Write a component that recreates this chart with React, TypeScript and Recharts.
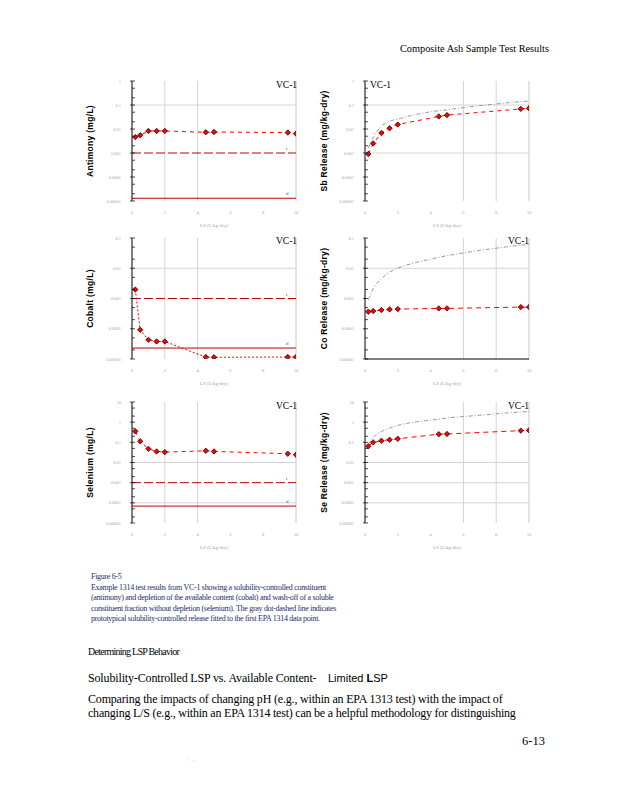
import React from "react";
import { ComposedChart, Line, XAxis, YAxis, ReferenceLine } from "recharts";

// L/S steps of the EPA 1314 test (L/kg-dry)
const lsSteps = [0.2, 0.5, 1, 1.5, 2, 4.5, 5, 9.5, 10];
const sbConc = [0.0046, 0.0055, 0.0083, 0.0083, 0.0083, 0.0073, 0.0075, 0.0071, 0.0064];
const sbRelease = [0.00091, 0.0025, 0.0068, 0.0108, 0.0153, 0.0334, 0.038, 0.0687, 0.073];
const coConc = [0.00197, 0.000092, 0.000043, 0.000038, 0.000038, 0.0000116, 0.0000114, 0.0000116, 0.0000116];
const coRelease = [0.000366, 0.000384, 0.000415, 0.000436, 0.000447, 0.00047, 0.00047, 0.00052, 0.00052];
const seConc = [0.354, 0.112, 0.0476, 0.0354, 0.0328, 0.038, 0.0354, 0.0272, 0.0244];
const seRelease = [0.064, 0.1, 0.12, 0.135, 0.15, 0.253, 0.26, 0.38, 0.395];

// gray dot-dashed prototypical solubility-controlled release
const protoLs = [0.2, 0.5, 1, 1.5, 2, 3, 4, 5, 6, 7, 8, 9, 10];
const sbProto = [0.0016, 0.0044, 0.013, 0.021, 0.026, 0.039, 0.052, 0.063, 0.078, 0.094, 0.11, 0.13, 0.146];
const coProto = [0.0009, 0.0021, 0.0045, 0.0075, 0.0101, 0.015, 0.02, 0.026, 0.032, 0.039, 0.046, 0.054, 0.062];
const seProto = [0.077, 0.175, 0.34, 0.5, 0.69, 1.0, 1.25, 1.6, 1.9, 2.2, 2.6, 3.0, 3.4];

const lsTicks = [0, 2, 4, 6, 8, 10];
const decadesTo1 = [0.00001, 0.0001, 0.001, 0.01, 0.1, 1];
const decadesTo01 = [0.00001, 0.0001, 0.001, 0.01, 0.1];
const decadesTo10 = [0.00001, 0.0001, 0.001, 0.01, 0.1, 1, 10];

const pairs = (xs: number[], ys: number[]) => xs.map((x, i) => ({ ls: x, v: ys[i] }));

const withMinor = (decades: number[]) => {
  const out: number[] = [];
  decades.forEach((d, i) => {
    out.push(d);
    if (i < decades.length - 1) out.push(d * 2, d * 5);
  });
  return out;
};

function YTick(props: any) {
  const { x, y, payload } = props;
  const v = payload.value;
  const lg = Math.log10(v);
  const major = Math.abs(lg - Math.round(lg)) < 1e-6;
  return (
    <g>
      <line x1={major ? x - 2 : x} x2={x + 3} y1={y} y2={y} stroke="#000" strokeWidth={0.7} />
      {major && (
        <text x={x - 11} y={y + 1.5} textAnchor="end" fontSize={4.5} fill="#a8a8a8" fontFamily="Liberation Serif">
          {String(v)}
        </text>
      )}
    </g>
  );
}

function XTick(props: any) {
  const { x, y, payload } = props;
  return (
    <text x={x} y={y + 12.5} textAnchor="middle" fontSize={4.5} fill="#a8a8a8" fontFamily="Liberation Serif">
      {payload.value}
    </text>
  );
}

function Diamond(props: any) {
  const { cx, cy } = props;
  if (cx == null || cy == null) return null;
  const r = 2.7;
  return (
    <path
      d={`M${cx},${cy - r}L${cx + r},${cy}L${cx},${cy + r}L${cx - r},${cy}Z`}
      fill="#ff0000"
      stroke="#000"
      strokeWidth={0.7}
    />
  );
}

type Limit = { y: number; dashed: boolean; tag: string };

interface PanelProps {
  left: number;
  top: number;
  yWidth: number;
  marginTop: number;
  plotH: number;
  domain: [number, number];
  decades: number[];
  title: string;
  titleOffset: number;
  values: number[];
  proto?: number[];
  limits?: Limit[];
  gridX: number[];
  gridY: number[];
  xLine?: boolean;
  dash: string;
}

function Panel(p: PanelProps) {
  const width = p.yWidth + 164 + 14;
  const height = p.marginTop + p.plotH + 34;
  return (
    <div style={{ position: "absolute", left: p.left, top: p.top }}>
      <ComposedChart width={width} height={height} margin={{ top: p.marginTop, right: 14, bottom: 0, left: 0 }}>
        <XAxis
          type="number"
          dataKey="ls"
          domain={[0, 10]}
          ticks={lsTicks}
          interval={0}
          tickLine={false}
          tickSize={0}
          tickMargin={0}
          tick={<XTick />}
          axisLine={p.xLine ? { stroke: "#000", strokeWidth: 1 } : false}
          height={34}
          allowDataOverflow
          label={{ value: "LS (L/kg-dry)", position: "insideBottom", offset: 8, fontSize: 5, fill: "#a0a0a0", fontFamily: "Liberation Serif" }}
        />
        <YAxis
          type="number"
          scale="log"
          domain={p.domain}
          ticks={withMinor(p.decades)}
          interval={0}
          allowDataOverflow
          tickLine={false}
          tickSize={0}
          tickMargin={0}
          tick={<YTick />}
          axisLine={{ stroke: "#000", strokeWidth: 1 }}
          width={p.yWidth}
          label={{
            value: p.title,
            angle: -90,
            position: "insideLeft",
            offset: p.titleOffset,
            style: { textAnchor: "middle", fontWeight: "bold", fontSize: 8.5, fontFamily: "Liberation Sans", fill: "#000", letterSpacing: 0.3 },
          }}
        />
        {p.gridX.map((g) => (
          <ReferenceLine key={"gx" + g} x={g} stroke="#d4d4d4" strokeWidth={1} />
        ))}
        <ReferenceLine x={10} stroke="#c8c8c8" strokeWidth={1} />
        {p.gridY.map((g) => (
          <ReferenceLine key={"gy" + g} y={g} stroke="#d4d4d4" strokeWidth={1} />
        ))}
        {(p.limits || []).map((l) => (
          <ReferenceLine
            key={"lim" + l.y}
            y={l.y}
            stroke="#c00000"
            strokeWidth={1}
            strokeDasharray={l.dashed ? "9 3" : undefined}
            label={(lp: any) => {
              const vb = lp.viewBox || {};
              return (
                <text x={(vb.x || 0) + (vb.width || 0) - 10} y={(vb.y || 0) - 3} fontSize={5} fill="#a0307a" fontFamily="Liberation Serif">
                  {l.tag}
                </text>
              );
            }}
          />
        ))}
        {p.proto && (
          <Line
            data={pairs(protoLs, p.proto)}
            dataKey="v"
            type="monotone"
            stroke="#808080"
            strokeWidth={0.8}
            strokeDasharray="4 2 1 2"
            dot={false}
            isAnimationActive={false}
          />
        )}
        <Line
          data={pairs(lsSteps, p.values)}
          dataKey="v"
          type="linear"
          stroke="#ff0000"
          strokeWidth={1}
          strokeDasharray={p.dash}
          dot={(dp: any) => <Diamond key={"d" + dp.index} {...dp} />}
          isAnimationActive={false}
        />
      </ComposedChart>
    </div>
  );
}

function T(props: { x: number; y: number; size: number; font?: string; color?: string; ls?: number; children: React.ReactNode }) {
  return (
    <div
      style={{
        position: "absolute",
        left: props.x,
        top: props.y - props.size * 0.55,
        fontSize: props.size,
        lineHeight: `${props.size}px`,
        fontFamily: props.font || "Liberation Serif",
        color: props.color || "#000",
        letterSpacing: props.ls || 0,
        whiteSpace: "pre",
      }}
    >
      {props.children}
    </div>
  );
}

const captionLines = [
  "Figure 6-5",
  "Example 1314 test results from VC-1 showing a solubility-controlled constituent",
  "(antimony) and depletion of the available content (cobalt) and wash-off of a soluble",
  "constituent fraction without depletion (selenium). The gray dot-dashed line indicates",
  "prototypical solubility-controlled release fitted to the first EPA 1314 data point.",
];
const captionY = [577, 588, 598, 609, 619];

export default function App() {
  return (
    <div style={{ position: "absolute", left: 0, top: 0, width: 618, height: 800, background: "#fff", overflow: "hidden" }}>
      <T x={400} y={50} size={10.3}>Composite Ash Sample Test Results</T>

      <Panel left={80} top={70} yWidth={52} marginTop={11} plotH={120} domain={[0.00001, 1]} decades={decadesTo1}
        title="Antimony (mg/L)" titleOffset={10} values={sbConc} dash="4 4"
        limits={[{ y: 0.001, dashed: true, tag: "t" }, { y: 0.000013, dashed: false, tag: "d" }]}
        gridX={[2, 4]} gridY={[0.1]} />
      <Panel left={318} top={70} yWidth={47} marginTop={11} plotH={120} domain={[0.00001, 1]} decades={decadesTo1}
        title="Sb Release (mg/kg-dry)" titleOffset={6} values={sbRelease} proto={sbProto} dash="4 4"
        gridX={[6, 8]} gridY={[0.1, 0.001]} />

      <Panel left={80} top={228} yWidth={52} marginTop={10} plotH={121} domain={[0.00001, 0.1]} decades={decadesTo01}
        title="Cobalt (mg/L)" titleOffset={10} values={coConc} dash="2 2"
        limits={[{ y: 0.001, dashed: true, tag: "t" }, { y: 0.000023, dashed: false, tag: "d" }]}
        gridX={[2, 4]} gridY={[0.01]} />
      <Panel left={318} top={228} yWidth={47} marginTop={10} plotH={121} domain={[0.00001, 0.1]} decades={decadesTo01}
        title="Co Release (mg/kg-dry)" titleOffset={6} values={coRelease} proto={coProto} dash="5 4"
        gridX={[6, 8]} gridY={[0.01]} xLine />

      <Panel left={80} top={390} yWidth={52} marginTop={12} plotH={121} domain={[0.00001, 10]} decades={decadesTo10}
        title="Selenium (mg/L)" titleOffset={10} values={seConc} dash="4 4"
        limits={[{ y: 0.001, dashed: true, tag: "t" }, { y: 0.000069, dashed: false, tag: "d" }]}
        gridX={[2, 4]} gridY={[0.01, 0.0001]} />
      <Panel left={318} top={390} yWidth={47} marginTop={12} plotH={121} domain={[0.00001, 10]} decades={decadesTo10}
        title="Se Release (mg/kg-dry)" titleOffset={6} values={seRelease} proto={seProto} dash="5 4"
        gridX={[6, 8]} gridY={[0.01, 0.001, 0.0001]} />

      <T x={276} y={86} size={9.5}>VC-1</T>
      <T x={370} y={86} size={9.5}>VC-1</T>
      <T x={276} y={242} size={9.5}>VC-1</T>
      <T x={508} y={242} size={9.5}>VC-1</T>
      <T x={276} y={407} size={9.5}>VC-1</T>
      <T x={508} y={407} size={9.5}>VC-1</T>

      {captionLines.map((c, i) => (
        <T key={c} x={91} y={captionY[i]} size={8} color="#1f2d6b" ls={-0.3}>{c}</T>
      ))}

      <T x={88} y={652} size={10} ls={-0.75}>Determining LSP Behavior</T>
      <T x={88} y={679} size={12} ls={-0.15}>Solubility-Controlled LSP vs. Available Content-</T>
      <T x={328} y={679} size={11} font="Liberation Sans">
        Limited <b>L</b>SP
      </T>
      <T x={88} y={700} size={12} ls={-0.18}>Comparing the impacts of changing pH (e.g., within an EPA 1313 test) with the impact of</T>
      <T x={88} y={714} size={12} ls={-0.22}>changing L/S (e.g., within an EPA 1314 test) can be a helpful methodology for distinguishing</T>
      <T x={522} y={742} size={12.5}>6-13</T>
      <T x={188} y={761} size={5} color="#999">{"'  :  ."}</T>
    </div>
  );
}
